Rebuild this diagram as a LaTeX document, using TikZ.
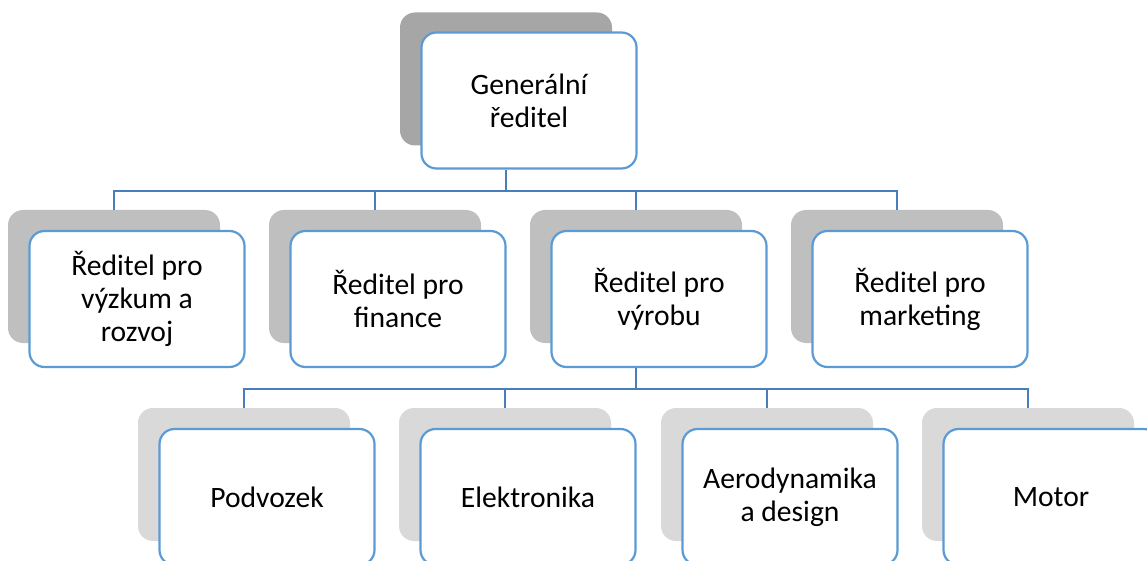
\documentclass[tikz,border=0pt]{standalone}
\usepackage{fontspec}
\setmainfont{Carlito}
\definecolor{boxblue}{HTML}{5B9BD5}
\definecolor{lineblue}{HTML}{4A7EBB}
\definecolor{shadetop}{HTML}{A6A6A6}
\definecolor{shademid}{HTML}{BFBFBF}
\definecolor{shadelow}{HTML}{D9D9D9}

\begin{document}
\begin{tikzpicture}[x=1pt, y=-1pt,
    back/.style={rounded corners=15pt, minimum width=212pt, minimum height=133pt, inner sep=0pt},
    front/.style={draw=boxblue, line width=2.2pt, fill=white, rounded corners=15pt,
      minimum width=215pt, minimum height=136pt, inner sep=0pt, align=center,
      font=\fontsize{29.6}{33}\selectfont},
    conn/.style={draw=lineblue, line width=2.2pt}]

        \useasboundingbox (0, 0) rectangle (1147, 561);
        \clip (0, 0) rectangle (1147, 561);

        % top level
        \node[back, fill=shadetop] (gceo) at (506, 79) {};
        \node[front] (ceo) at (529, 100.5) {Generální\\ředitel};

        % second level
        \node[back, fill=shademid] (gvyzkum) at (114, 276.5) {};
        \node[back, fill=shademid] (gfinance) at (375, 276.5) {};
        \node[back, fill=shademid] (gvyroba) at (636, 276.5) {};
        \node[back, fill=shademid] (gmarketing) at (897, 276.5) {};
        \node[front] (vyzkum) at (137, 299) {Ředitel pro\\výzkum a\\rozvoj};
        \node[front] (finance) at (398, 299) {Ředitel pro\\finance};
        \node[front] (vyroba) at (659, 299) {Ředitel pro\\výrobu};
        \node[front] (marketing) at (920, 299) {Ředitel pro\\marketing};

        % third level
        \node[back, fill=shadelow] (gpodvozek) at (244, 474.5) {};
        \node[back, fill=shadelow] (gelektro) at (505, 474.5) {};
        \node[back, fill=shadelow] (gaero) at (767, 474.5) {};
        \node[back, fill=shadelow] (gmotor) at (1028, 474.5) {};
        \node[front] (podvozek) at (267, 497) {Podvozek};
        \node[front] (elektro) at (528, 497) {Elektronika};
        \node[front] (aero) at (790, 497) {Aerodynamika\\a design};
        \node[front] (motor) at (1051, 497) {Motor};

        % connectors
        \draw[conn] (gceo |- ceo.south) -- ++(0, 21.5) -| (gvyzkum.north);
        \draw[conn] (gceo |- ceo.south) -- ++(0, 21.5) -| (gfinance.north);
        \draw[conn] (gceo |- ceo.south) -- ++(0, 21.5) -| (gvyroba.north);
        \draw[conn] (gceo |- ceo.south) -- ++(0, 21.5) -| (gmarketing.north);

        \draw[conn] (gvyroba |- vyroba.south) -- ++(0, 21) -| (gpodvozek.north);
        \draw[conn] (gvyroba |- vyroba.south) -- ++(0, 21) -| (gelektro.north);
        \draw[conn] (gvyroba |- vyroba.south) -- ++(0, 21) -| (gaero.north);
        \draw[conn] (gvyroba |- vyroba.south) -- ++(0, 21) -| (gmotor.north);

      \end{tikzpicture}
\end{document}
